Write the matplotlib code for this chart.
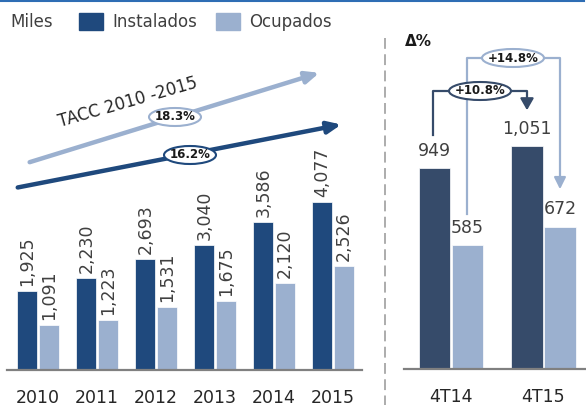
import numpy as np
import matplotlib.pyplot as plt
from matplotlib.patches import Ellipse

# data (miles)
years = ['2010', '2011', '2012', '2013', '2014', '2015']
instalados = [1925, 2230, 2693, 3040, 3586, 4077]
ocupados = [1091, 1223, 1531, 1675, 2120, 2526]

quarters = ['4T14', '4T15']
inst_q = [949, 1051]
ocup_q = [585, 672]

tacc_inst = '16.2%'
tacc_ocup = '18.3%'
delta_inst = '+10.8%'
delta_ocup = '+14.8%'

dark = '#1F497D'
dark2 = '#364B6A'
light = '#9BB0CF'
txt = '#404040'
plt.rcParams['font.family'] = ['DejaVu Sans']

W, H = 586, 407
fig = plt.figure(figsize=(W / 100, H / 100), dpi=100)

def box(l, t, r, b):
    return [l / W, (H - b) / H, (r - l) / W, (b - t) / H]

# left chart
ax = fig.add_axes(box(7, 40, 362, 370))
x = np.arange(len(years))
ax.bar(x - 0.182, instalados, 0.34, color=dark, edgecolor='white', linewidth=0.5)
ax.bar(x + 0.182, ocupados, 0.34, color=light, edgecolor='white', linewidth=0.5)
for i in range(len(years)):
    ax.text(x[i] - 0.182, instalados[i] + 120, f'{instalados[i]:,}', rotation=90,
            ha='center', va='bottom', fontsize=12.5, color=txt)
    ax.text(x[i] + 0.182, ocupados[i] + 120, f'{ocupados[i]:,}', rotation=90,
            ha='center', va='bottom', fontsize=12.5, color=txt)
ax.set_xlim(-0.525, 5.49)
ax.set_ylim(0, 8010)
ax.set_xticks(x)
ax.set_xticklabels(years, fontsize=12.5, color='#262626')
ax.tick_params(length=0, pad=14)
ax.set_yticks([])
for s in ['top', 'right', 'left']:
    ax.spines[s].set_visible(False)
ax.spines['bottom'].set_color('#808080')
ax.spines['bottom'].set_linewidth(1.6)
ax.patch.set_alpha(0)

# right chart
ax2 = fig.add_axes(box(404, 40, 586, 369))
xq = np.arange(len(quarters))
ax2.bar(xq - 0.178, inst_q, 0.34, color=dark2, edgecolor='white', linewidth=0.5)
ax2.bar(xq + 0.178, ocup_q, 0.34, color=light, edgecolor='white', linewidth=0.5)
for i in range(len(quarters)):
    ax2.text(xq[i] - 0.178, inst_q[i] + 38, f'{inst_q[i]:,}', ha='center',
             va='bottom', fontsize=12.5, color=txt)
    ax2.text(xq[i] + 0.178, ocup_q[i] + 38, f'{ocup_q[i]:,}', ha='center',
             va='bottom', fontsize=12.5, color=txt)
ax2.set_xlim(-0.508, 1.46)
ax2.set_ylim(0, 1552)
ax2.set_xticks(xq)
ax2.set_xticklabels(quarters, fontsize=12.5, color='#262626')
ax2.tick_params(length=0, pad=14)
ax2.set_yticks([])
for s in ['top', 'right', 'left']:
    ax2.spines[s].set_visible(False)
ax2.spines['bottom'].set_color('#808080')
ax2.spines['bottom'].set_linewidth(1.6)
ax2.patch.set_alpha(0)

# overlay in pixel coords for decorations
ov = fig.add_axes([0, 0, 1, 1], zorder=5)
ov.set_xlim(0, W)
ov.set_ylim(H, 0)
ov.axis('off')
ov.patch.set_alpha(0)

ov.plot([0, 584], [1, 1], color='#2E6DB4', lw=1.5)
ov.plot([385, 385], [38, 405], color='#A6A6A6', lw=1.3, ls=(0, (6, 3)))

# legend
ov.text(10, 22, 'Miles', fontsize=12, color=txt, va='center')
ov.add_patch(plt.Rectangle((79, 13), 24, 17, color=dark))
ov.text(112, 22, 'Instalados', fontsize=12, color=txt, va='center')
ov.add_patch(plt.Rectangle((216, 13), 24, 17, color=light))
ov.text(249, 22, 'Ocupados', fontsize=12, color=txt, va='center')

# TACC arrows
ov.annotate('', xy=(322, 72), xytext=(27, 163),
            arrowprops=dict(arrowstyle='-|>,head_length=0.8,head_width=0.35', color=light, lw=3.2))
ov.annotate('', xy=(344, 124), xytext=(15, 188),
            arrowprops=dict(arrowstyle='-|>,head_length=0.8,head_width=0.35', color=dark, lw=3.2))
ov.text(128, 102, 'TACC 2010 -2015', fontsize=12, color='#262626', rotation=16,
        ha='center', va='center', rotation_mode='anchor')
for (cx, cy, lab, col) in [(175, 117, tacc_ocup, light), (190, 155, tacc_inst, dark)]:
    ov.add_patch(Ellipse((cx, cy), 52, 18, facecolor='white', edgecolor=col, lw=1.5, zorder=6))
    ov.text(cx, cy, lab, fontsize=8.5, fontweight='bold', ha='center', va='center',
            color='#1a1a1a', zorder=7)

# delta brackets
ov.text(405, 41, 'Δ%', fontsize=11, fontweight='bold', color='#1a1a1a', va='center')
ov.plot([467, 467, 560, 560], [214, 58, 58, 183], color=light, lw=1.6)
ov.annotate('', xy=(560, 192), xytext=(560, 180),
            arrowprops=dict(arrowstyle='-|>,head_length=0.7,head_width=0.35', color=light, lw=1.6))
ov.plot([433, 433, 527, 527], [135, 91, 91, 103], color=dark2, lw=1.6)
ov.annotate('', xy=(527, 113), xytext=(527, 101),
            arrowprops=dict(arrowstyle='-|>,head_length=0.7,head_width=0.4', color=dark2, lw=1.6))
for (cx, cy, lab, col) in [(513, 58, delta_ocup, light), (480, 91, delta_inst, dark2)]:
    ov.add_patch(Ellipse((cx, cy), 62, 18, facecolor='white', edgecolor=col, lw=1.5, zorder=6))
    ov.text(cx, cy, lab, fontsize=8.5, fontweight='bold', ha='center', va='center',
            color='#1a1a1a', zorder=7)

fig.savefig('out.png', dpi=100)
